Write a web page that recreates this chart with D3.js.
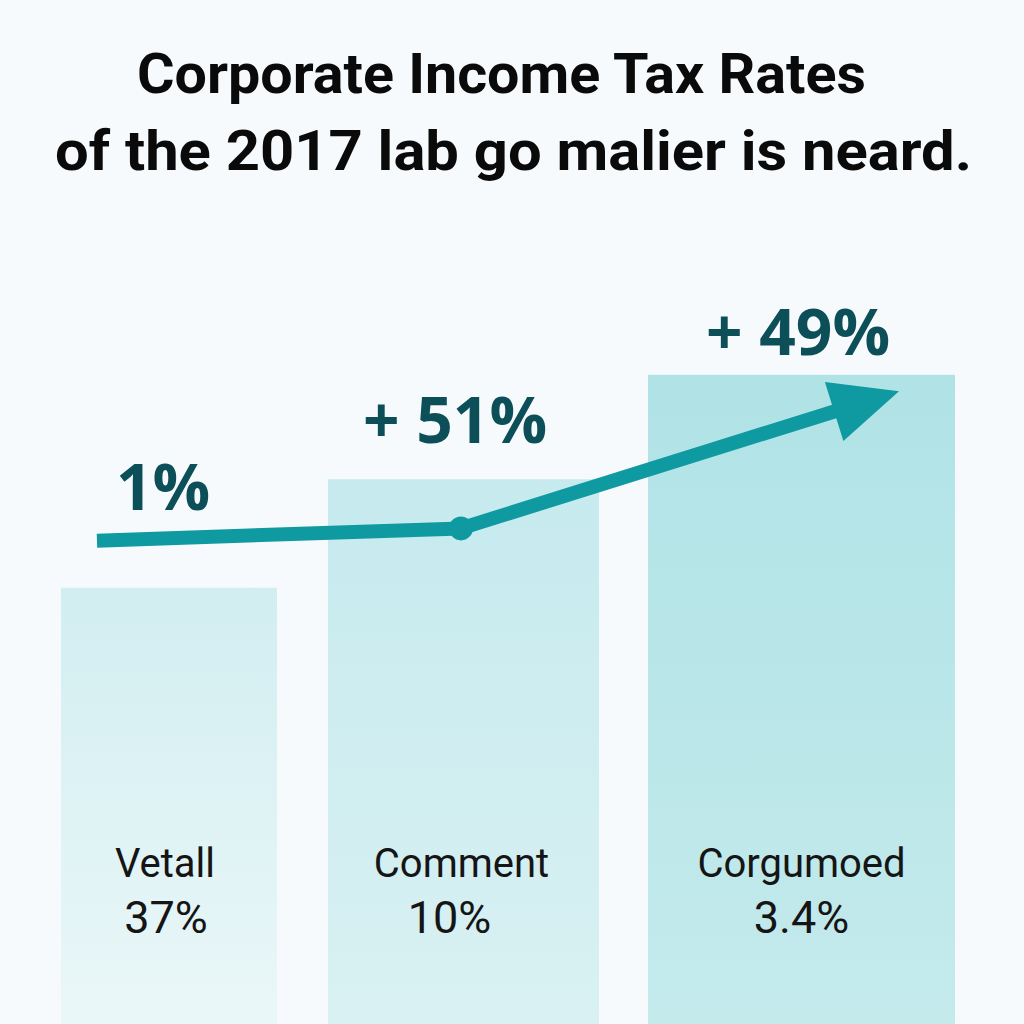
<!DOCTYPE html>
<html><head><meta charset="utf-8">
<script src="https://cdn.jsdelivr.net/npm/d3@7"></script>
<style>html,body{margin:0;padding:0;background:#f6fafc;}svg{display:block;}</style>
</head><body>
<script>
const titleLines = ["Corporate Income Tax Rates", "of the 2017 lab go malier is neard."];
const categories = ["Vetall", "Comment", "Corgumoed"];
const barLabels = ["37%", "10%", "3.4%"];
const barValues = [21.3, 26.6, 31.7];
const linePos = [-0.245, 0.993, 2.29];
const lineValues = [23.6, 24.2, 30.9];
const lineLabels = ["1%", "+ 51%", "+ 49%"];

const W = 1024, H = 1024;
const svg = d3.select("body").append("svg").attr("width", W).attr("height", H);
const defs = svg.append("defs");

svg.append("rect").attr("width", W).attr("height", H).attr("fill", "#f6fafc");

const y = d3.scaleLinear().domain([0, 50]).range([1024, 0]);
const xBand = d3.scaleOrdinal().domain(categories).range([[61, 277], [328, 599], [648, 955]]);
const xIdx = d3.scaleLinear().domain([0, 1, 2]).range([169, 463, 801]);

const grads = [["#d2eef1", "#eaf7f8"], ["#c6eaee", "#d9f1f3"], ["#b0e3e6", "#c4eaec"]];
categories.forEach((c, i) => {
  const g = defs.append("linearGradient").attr("id", "g" + i).attr("x1", 0).attr("y1", 0).attr("x2", 0).attr("y2", 1);
  g.append("stop").attr("offset", 0).attr("stop-color", grads[i][0]);
  g.append("stop").attr("offset", 1).attr("stop-color", grads[i][1]);
});

svg.selectAll("rect.bar").data(categories).join("rect").attr("class", "bar")
  .attr("x", d => xBand(d)[0])
  .attr("width", d => xBand(d)[1] - xBand(d)[0])
  .attr("y", (d, i) => y(barValues[i]))
  .attr("height", (d, i) => y(0) - y(barValues[i]))
  .attr("fill", (d, i) => `url(#g${i})`);

// bar labels
const cx = d => (xBand(d)[0] + xBand(d)[1]) / 2;
svg.selectAll("text.cat").data(categories).join("text").attr("class", "cat")
  .attr("x", (d, i) => cx(d) + [-4, -2, 0][i])
  .attr("y", 877)
  .attr("text-anchor", "middle")
  .attr("font-family", "Roboto, sans-serif").attr("font-size", 40).attr("fill", "#151515")
  .text(d => d);
svg.selectAll("text.val").data(categories).join("text").attr("class", "val")
  .attr("x", (d, i) => cx(d) + [-3, -14, 0][i])
  .attr("y", 933)
  .attr("text-anchor", "middle")
  .attr("font-family", "Roboto, sans-serif").attr("font-size", 45).attr("fill", "#151515")
  .text((d, i) => barLabels[i]);

// line with arrow
const pts = linePos.map((p, i) => [xIdx(p), y(lineValues[i])]);
const teal = "#0f9aa2";
const last = pts[2], prev = pts[1];
const ang = Math.atan2(last[1] - prev[1], last[0] - prev[0]);
const headLen = 68, headW = 62;
const baseX = last[0] - headLen * Math.cos(ang), baseY = last[1] - headLen * Math.sin(ang);
const linePts = [pts[0], pts[1], [baseX + 6 * Math.cos(ang), baseY + 6 * Math.sin(ang)]];
svg.append("path").attr("d", d3.line()(linePts)).attr("fill", "none")
  .attr("stroke", teal).attr("stroke-width", 14).attr("stroke-linejoin", "round");
const nx = -Math.sin(ang), ny = Math.cos(ang);
svg.append("path").attr("fill", teal).attr("d", d3.line()([
  last,
  [baseX + nx * headW / 2, baseY + ny * headW / 2],
  [baseX - nx * headW / 2, baseY - ny * headW / 2]
]) + "Z");
svg.append("circle").attr("cx", pts[1][0]).attr("cy", pts[1][1]).attr("r", 12).attr("fill", teal);

// annotations
const annX = [163, 455, 798], annY = [510, 443, 355];
svg.selectAll("text.ann").data(lineLabels).join("text").attr("class", "ann")
  .attr("x", (d, i) => annX[i]).attr("y", (d, i) => annY[i])
  .attr("text-anchor", "middle")
  .attr("font-family", "'Open Sans', 'Noto Sans', sans-serif").attr("font-weight", 700)
  .attr("font-size", 64).attr("fill", "#0d4f59")
  .text(d => d);

// title
const titleSpan = [[137, 866], [55, 972]];
svg.selectAll("text.title").data(titleLines).join("text").attr("class", "title")
  .attr("x", (d, i) => titleSpan[i][0]).attr("y", (d, i) => [93, 170][i])
  .attr("textLength", (d, i) => titleSpan[i][1] - titleSpan[i][0])
  .attr("lengthAdjust", "spacingAndGlyphs")
  .attr("font-family", "Roboto, sans-serif").attr("font-weight", 700)
  .attr("font-size", 55).attr("fill", "#0a0a0a")
  .text(d => d);
</script>
</body></html>
